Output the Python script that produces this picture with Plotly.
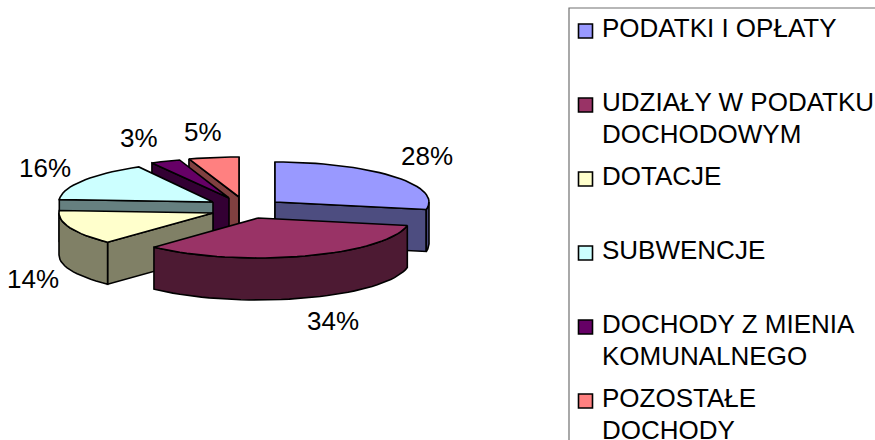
import math
import plotly.graph_objects as go

CATEGORIES = ["PODATKI I OPŁATY", "UDZIAŁY W PODATKU DOCHODOWYM", "DOTACJE", "SUBWENCJE",
              "DOCHODY Z MIENIA KOMUNALNEGO", "POZOSTAŁE DOCHODY"]
LEGEND_LINES = [["PODATKI I OPŁATY"], ["UDZIAŁY W PODATKU", "DOCHODOWYM"], ["DOTACJE"], ["SUBWENCJE"],
                ["DOCHODY Z MIENIA", "KOMUNALNEGO"], ["POZOSTAŁE", "DOCHODY"]]
VALUES = [28, 34, 14, 16, 3, 5]
COLORS = ["#9999FF", "#993366", "#FFFFCC", "#CCFFFF", "#660066", "#FF8080"]
SIDE_COLORS = ["#4D4D80", "#4D1A33", "#808066", "#668080", "#330033", "#804040"]

# exploded-slice hub positions and 3D look
HUBS = [(275, 202), (258, 218), (213, 213), (213, 202), (229, 198), (239, 197)]
RADII_X = [154, 152, 154, 154, 160, 162]
RY, DEPTH = 40, 42
LABEL_NUDGE = [(33, -21), (28, 65), (-37, 51), (-38, -13), (-26, -23), (-11, -25)]
DRAW_ORDER = [5, 4, 3, 2, 0, 1]
FONT = "Liberation Sans, Arial, sans-serif"
FONT_SIZE = 26

total = sum(VALUES)
starts, acc = [], 0
for v in VALUES:
    starts.append(acc / total * 360)
    acc += v


def rim(i, deg, dy=0):
    r = math.radians(deg)
    return HUBS[i][0] + RADII_X[i] * math.sin(r), HUBS[i][1] - RY * math.cos(r) + dy


def arc(i, a0, a1, dy=0):
    n = max(2, int((a1 - a0) / 3) + 1)
    return [rim(i, a0 + (a1 - a0) * j / (n - 1), dy) for j in range(n)]


fig = go.Figure()


def poly(pts, fill):
    xs = [p[0] for p in pts] + [pts[0][0]]
    ys = [p[1] for p in pts] + [pts[0][1]]
    fig.add_trace(go.Scatter(x=xs, y=ys, mode="lines", fill="toself", fillcolor=fill,
                             line=dict(color="#000000", width=1.6), hoverinfo="skip", showlegend=False))


for i in DRAW_ORDER:
    hub = HUBS[i]
    a0 = starts[i]
    a1 = a0 + VALUES[i] / total * 360
    low = (hub[0], hub[1] + DEPTH)
    # cut faces that look toward the viewer
    for ang, normal in ((a0, a0 - 90), (a1, a1 + 90)):
        if math.cos(math.radians(normal)) < 1e-9:
            poly([hub, rim(i, ang), rim(i, ang, DEPTH), low], SIDE_COLORS[i])
    # outer wall
    w0, w1 = max(a0, 90), min(a1, 270)
    if w1 > w0:
        poly(arc(i, w0, w1) + arc(i, w0, w1, DEPTH)[::-1], SIDE_COLORS[i])
    # top
    poly([hub] + arc(i, a0, a1), COLORS[i])

annotations = []
for i, v in enumerate(VALUES):
    mid = starts[i] + v / total * 180
    x, y = rim(i, mid)
    annotations.append(dict(x=x + LABEL_NUDGE[i][0], y=y + LABEL_NUDGE[i][1], text=f"{v}%", showarrow=False,
                            xanchor="center", yanchor="middle", font=dict(family=FONT, size=FONT_SIZE, color="#000")))

# legend
LEGEND_X, LEGEND_TOP, LEGEND_STEP, LINE_STEP = 585.5, 31, 74, 32
fig.add_trace(go.Scatter(x=[LEGEND_X] * len(CATEGORIES), y=[LEGEND_TOP + k * LEGEND_STEP for k in range(len(CATEGORIES))],
                         mode="markers", marker=dict(symbol="square", size=14, color=COLORS,
                                                     line=dict(color="#000", width=1.6)),
                         text=CATEGORIES, hoverinfo="text", showlegend=False))
for k, lines in enumerate(LEGEND_LINES):
    for j, t in enumerate(lines):
        annotations.append(dict(x=LEGEND_X + 14, y=LEGEND_TOP + k * LEGEND_STEP - 3 + j * LINE_STEP, text=t, showarrow=False,
                                xanchor="left", yanchor="middle", font=dict(family=FONT, size=FONT_SIZE, color="#000")))

fig.update_layout(
    width=875, height=440, margin=dict(l=0, r=0, t=0, b=0),
    paper_bgcolor="white", plot_bgcolor="white", showlegend=False,
    xaxis=dict(range=[0, 875], visible=False, fixedrange=True),
    yaxis=dict(range=[440, 0], visible=False, fixedrange=True),
    annotations=annotations,
    shapes=[dict(type="rect", x0=569, y0=8, x1=900, y1=500, line=dict(color="#707070", width=1.2), layer="below")],
)
fig.write_html("out.html", config={"displayModeBar": False},
               post_script="document.body.style.margin='0';document.body.style.overflow='hidden';")
